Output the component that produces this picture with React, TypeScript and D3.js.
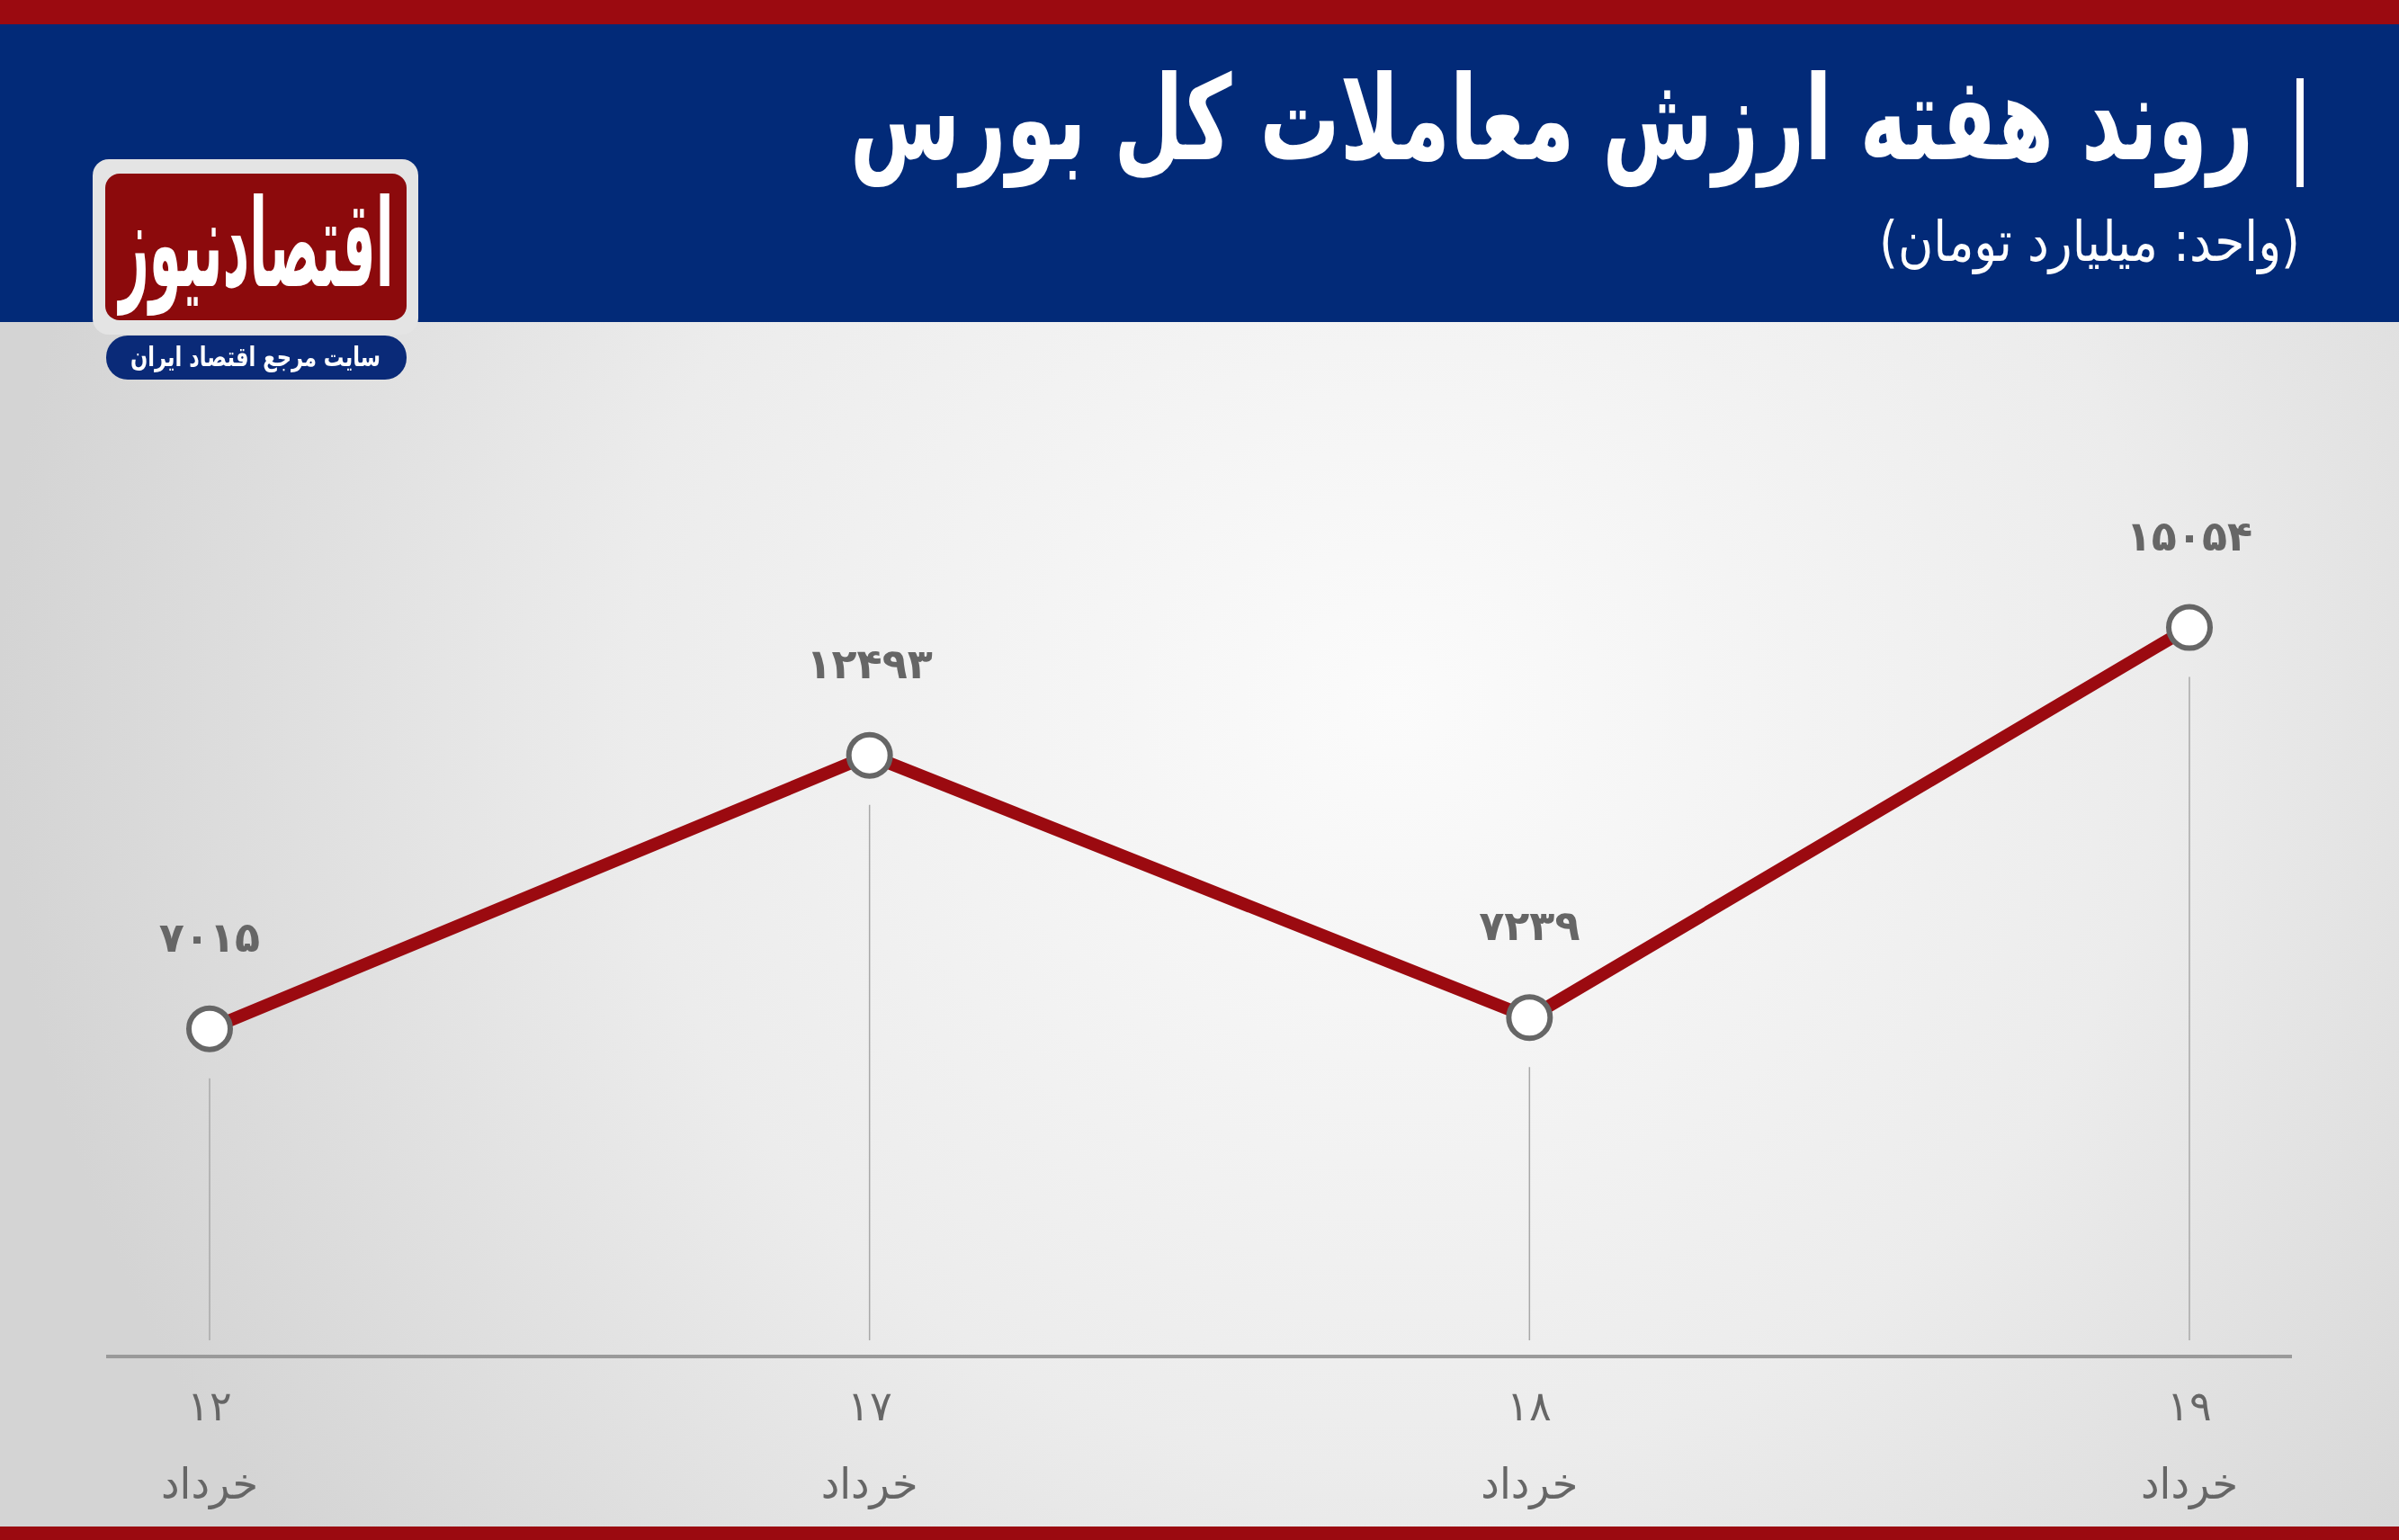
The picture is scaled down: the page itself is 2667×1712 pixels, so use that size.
import React from "react";
import * as d3 from "d3";

const days = [12, 17, 18, 19];
const month = "خرداد";
const values = [7015, 12493, 7239, 15054];
const title = "روند هفته ارزش معاملات کل بورس";
const subtitle = "(واحد: میلیارد تومان)";
const logoText = "اقتصادنیوز";
const logoTagline = "سایت مرجع اقتصاد ایران";

const W = 2667;
const H = 1712;

const faDigits = "۰۱۲۳۴۵۶۷۸۹";
const toFa = (n: number) => String(n).replace(/\d/g, (d) => faDigits[+d]);

const FONT = "'DejaVu Sans', 'Noto Sans', sans-serif";

export default function App() {
  const x = d3.scalePoint<number>().domain(days).range([233, 2434]);
  const y = d3.scaleLinear().domain([0, 16000]).range([1533, 645]);
  const pts = days.map((d, i) => ({ d, v: values[i] }));
  const line = d3
    .line<{ d: number; v: number }>()
    .x((p) => x(p.d) as number)
    .y((p) => y(p.v));

  return (
    <svg
      width={W}
      height={H}
      style={{ position: "fixed", left: 0, top: 0, display: "block" }}
      fontFamily={FONT}
    >
      <defs>
        <radialGradient id="bg" gradientUnits="userSpaceOnUse" cx={1550} cy={780} r={1550}>
          <stop offset="0" stopColor="#fbfbfb" />
          <stop offset="0.55" stopColor="#ececec" />
          <stop offset="1" stopColor="#d4d4d4" />
        </radialGradient>
      </defs>
      <rect x={0} y={0} width={W} height={H} fill="url(#bg)" />
      {/* header */}
      <rect x={0} y={27} width={W} height={331} fill="#022a78" />
      <rect x={0} y={0} width={W} height={27} fill="#9b0a10" />
      <rect x={0} y={1697} width={W} height={15} fill="#9b0a10" />

      {/* logo */}
      <rect x={103} y={177} width={362} height={195} rx={18} fill="#e4e4e4" />
      <rect x={117} y={193} width={335} height={163} rx={16} fill="#8c0a0c" />
      <g transform="translate(285,318) scale(1,1.25)">
        <text
          x={0}
          y={0}
          fill="#fff"
          fontSize={108}
          fontWeight="bold"
          textAnchor="middle"
          direction="rtl"
          textLength={305}
          lengthAdjust="spacingAndGlyphs"
        >
          {logoText}
        </text>
      </g>
      <rect x={118} y={373} width={334} height={49} rx={24} fill="#0a2a78" />
      <text
        x={284}
        y={407}
        fill="#fff"
        fontSize={30}
        fontWeight="bold"
        textAnchor="middle"
        direction="rtl"
        textLength={278}
        lengthAdjust="spacingAndGlyphs"
      >
        {logoTagline}
      </text>

      {/* title */}
      <rect x={2553} y={87} width={8} height={121} fill="#fff" />
      <g transform="translate(1725,177) scale(1,1.2)">
        <text
          x={0}
          y={0}
          fill="#fff"
          fontSize={108}
          fontWeight="bold"
          textAnchor="middle"
          direction="rtl"
          textLength={1560}
          lengthAdjust="spacingAndGlyphs"
        >
          {title}
        </text>
      </g>
      <g transform="translate(2323,290) scale(1,1.15)">
        <text
          x={0}
          y={0}
          fill="#fff"
          fontSize={54}
          fontWeight="normal"
          textAnchor="middle"
          direction="rtl"
          textLength={468}
          lengthAdjust="spacingAndGlyphs"
        >
          {subtitle}
        </text>
      </g>

      {/* axis */}
      <line x1={118} x2={2548} y1={1508} y2={1508} stroke="#9a9a9a" strokeWidth={4} />
      {pts.map((p) => (
        <line
          key={"v" + p.d}
          x1={x(p.d)}
          x2={x(p.d)}
          y1={y(p.v) + 55}
          y2={1490}
          stroke="#a8a8a8"
          strokeWidth={1.5}
        />
      ))}
      {days.map((d) => (
        <g key={"t" + d}>
          <text
            x={x(d)}
            y={1579}
            fill="#666"
            fontSize={46}
            textAnchor="middle"
            direction="rtl"
            fontWeight="300"
          >
            {toFa(d)}
          </text>
          <text
            x={x(d)}
            y={1666}
            fill="#666"
            fontSize={48}
            textAnchor="middle"
            direction="rtl"
            textLength={108}
            lengthAdjust="spacingAndGlyphs"
          >
            {month}
          </text>
        </g>
      ))}

      {/* line */}
      <path d={line(pts) ?? ""} fill="none" stroke="#9b0a10" strokeWidth={14} strokeLinejoin="miter" />
      {pts.map((p) => (
        <circle key={"c" + p.d} cx={x(p.d)} cy={y(p.v)} r={23} fill="#fff" stroke="#666" strokeWidth={6} />
      ))}
      {pts.map((p) => (
        <text
          key={"l" + p.d}
          x={x(p.d)}
          y={y(p.v) - 86}
          fill="#666"
          fontSize={46}
          fontWeight="bold"
          textAnchor="middle"
          letterSpacing={6}
        >
          {toFa(p.v)}
        </text>
      ))}
    </svg>
  );
}
